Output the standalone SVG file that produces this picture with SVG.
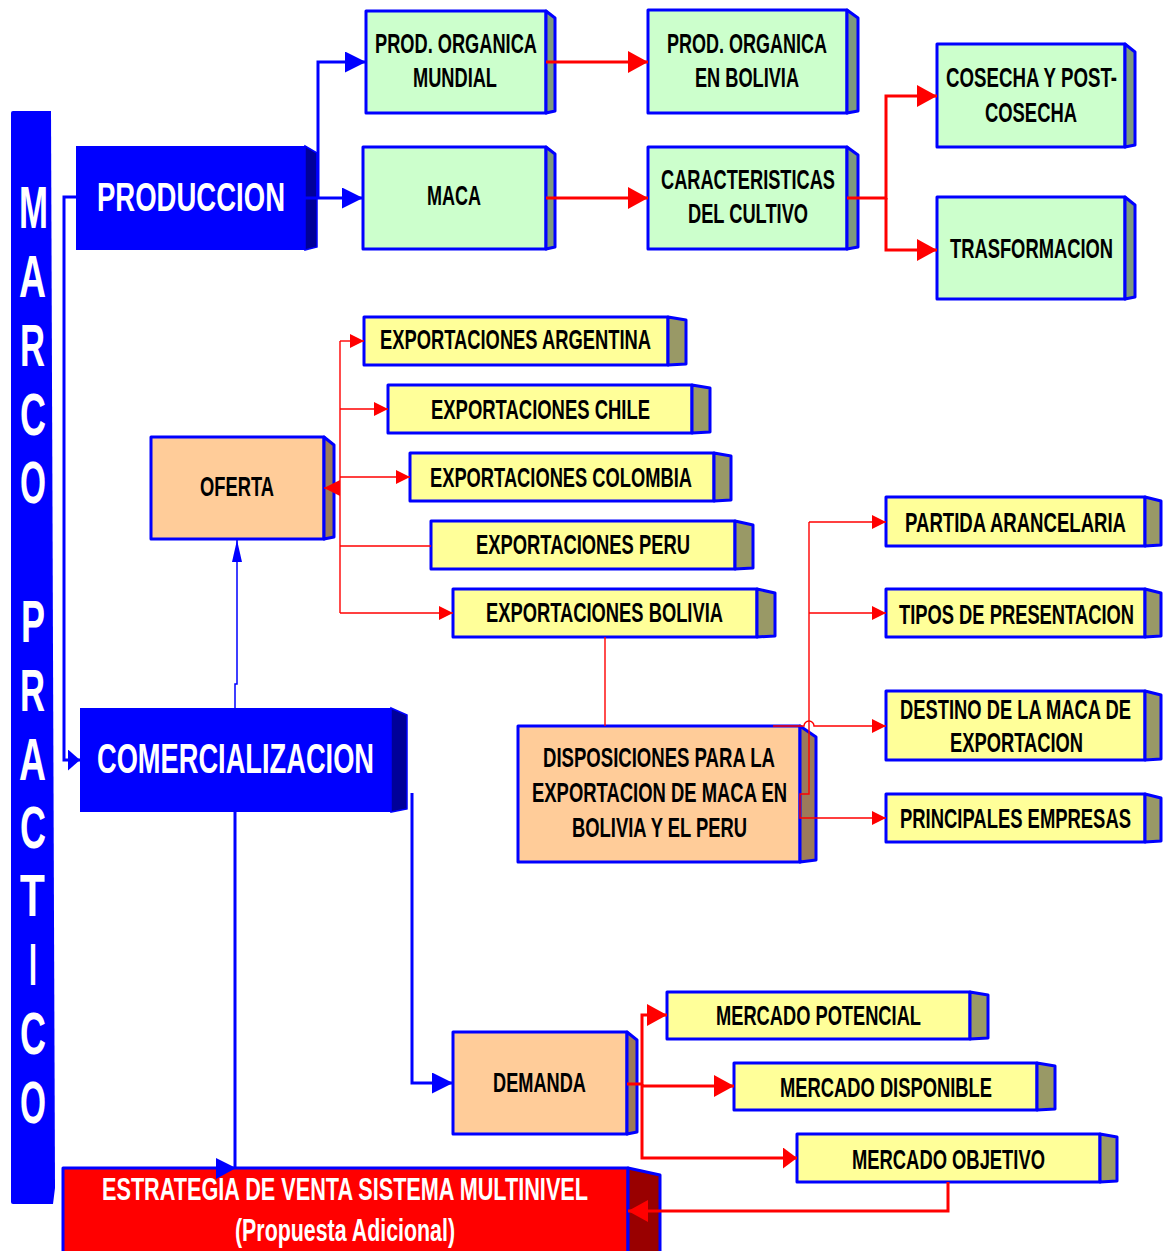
<svg xmlns="http://www.w3.org/2000/svg" width="1166" height="1251" viewBox="0 0 1166 1251">
<style>
text{font-family:"Liberation Sans",Arial,sans-serif;font-weight:bold;}
.t{font-size:28px;fill:#000;}
.tw{fill:#fff;}
.bd{stroke:#0000FF;stroke-width:3;stroke-linejoin:round;}
.gr{fill:#CCFFCC;}
.grs{fill:#7E9A7E;}
.ye{fill:#FFFF99;}
.yes{fill:#999966;}
.pe{fill:#FFCC99;}
.pes{fill:#9C7A5A;}
.bl{fill:#0000FF;}
.bls{fill:#000099;}
.rd{fill:#FF0000;}
.rds{fill:#990000;}
.cb{fill:none;stroke:#0000FF;stroke-width:3;}
.cbt{fill:none;stroke:#0000FF;stroke-width:1.5;}
.cr{fill:none;stroke:#FF0000;stroke-width:3;}
.crt{fill:none;stroke:#FF0000;stroke-width:1.4;}
</style>
<defs>
<marker id="aRL" markerUnits="userSpaceOnUse" markerWidth="20" markerHeight="22" viewBox="0 0 20 22" refX="20" refY="11" orient="auto"><path d="M0,0 L20,11 L0,22 z" fill="#FF0000"/></marker>
<marker id="aRM" markerUnits="userSpaceOnUse" markerWidth="14" markerHeight="21" viewBox="0 0 14 21" refX="14" refY="10.5" orient="auto"><path d="M0,0 L14,10.5 L0,21 z" fill="#FF0000"/></marker>
<marker id="aRS" markerUnits="userSpaceOnUse" markerWidth="14" markerHeight="14" viewBox="0 0 14 14" refX="14" refY="7" orient="auto"><path d="M0,0 L14,7 L0,14 z" fill="#FF0000"/></marker>
<marker id="aRO" markerUnits="userSpaceOnUse" markerWidth="16" markerHeight="16" viewBox="0 0 16 16" refX="16" refY="8" orient="auto"><path d="M0,0 L16,8 L0,16 z" fill="#FF0000"/></marker>
<marker id="aBL" markerUnits="userSpaceOnUse" markerWidth="21" markerHeight="21" viewBox="0 0 21 21" refX="21" refY="10.5" orient="auto"><path d="M0,0 L21,10.5 L0,21 z" fill="#0000FF"/></marker>
<marker id="aBS" markerUnits="userSpaceOnUse" markerWidth="12" markerHeight="21" viewBox="0 0 12 21" refX="12" refY="10.5" orient="auto"><path d="M0,0 L12,10.5 L0,21 z" fill="#0000FF"/></marker>
<marker id="aBU" markerUnits="userSpaceOnUse" markerWidth="22" markerHeight="10" viewBox="0 0 22 10" refX="22" refY="5" orient="auto"><path d="M0,0 L22,5 L0,10 z" fill="#0000FF"/></marker>
</defs>
<rect width="1166" height="1251" fill="#fff"/>

<g id="marco-practico">
<path d="M13,111 H51 L55,1188 L53,1204 H13 Q11,1204 11,1202 V113 Q11,111 13,111 Z" fill="#0000FF"/>
<text class="tw" font-size="60" x="19" y="228" textLength="29" lengthAdjust="spacingAndGlyphs">M</text>
<text class="tw" font-size="60" x="19" y="297" textLength="27" lengthAdjust="spacingAndGlyphs">A</text>
<text class="tw" font-size="60" x="20" y="366" textLength="25" lengthAdjust="spacingAndGlyphs">R</text>
<text class="tw" font-size="60" x="20" y="435" textLength="26" lengthAdjust="spacingAndGlyphs">C</text>
<text class="tw" font-size="60" x="20" y="503" textLength="26" lengthAdjust="spacingAndGlyphs">O</text>
<text class="tw" font-size="60" x="21" y="642" textLength="24" lengthAdjust="spacingAndGlyphs">P</text>
<text class="tw" font-size="60" x="20" y="711" textLength="25" lengthAdjust="spacingAndGlyphs">R</text>
<text class="tw" font-size="60" x="19" y="780" textLength="27" lengthAdjust="spacingAndGlyphs">A</text>
<text class="tw" font-size="60" x="20" y="848" textLength="26" lengthAdjust="spacingAndGlyphs">C</text>
<text class="tw" font-size="60" x="20" y="916" textLength="25" lengthAdjust="spacingAndGlyphs">T</text>
<text class="tw" font-size="60" x="29" y="985" textLength="8" lengthAdjust="spacingAndGlyphs">I</text>
<text class="tw" font-size="60" x="20" y="1054" textLength="26" lengthAdjust="spacingAndGlyphs">C</text>
<text class="tw" font-size="60" x="20" y="1123" textLength="26" lengthAdjust="spacingAndGlyphs">O</text>
</g>

<g id="produccion">
<rect class="bl" x="76" y="146" width="229" height="104"/>
<polygon class="bls" points="305,146 317,153 317,247 305,250" stroke="#0000FF" stroke-width="1.5"/>
<text class="tw" font-size="40" x="97" y="211" textLength="188" lengthAdjust="spacingAndGlyphs">PRODUCCION</text>
</g>

<g id="prod-organica-mundial">
<rect class="gr bd" x="366" y="11" width="180" height="102"/>
<polygon class="grs bd" points="546,11 555,18 555,111 546,113"/>
<text class="t" x="375" y="53" textLength="162" lengthAdjust="spacingAndGlyphs">PROD. ORGANICA</text>
<text class="t" x="413" y="87" textLength="84" lengthAdjust="spacingAndGlyphs">MUNDIAL</text>
</g>

<g id="maca">
<rect class="gr bd" x="363" y="147" width="183" height="102"/>
<polygon class="grs bd" points="546,147 555,154 555,247 546,249"/>
<text class="t" x="427" y="205" textLength="54" lengthAdjust="spacingAndGlyphs">MACA</text>
</g>

<g id="prod-organica-bolivia">
<rect class="gr bd" x="648" y="10" width="199" height="103"/>
<polygon class="grs bd" points="847,10 858,18 858,111 847,113"/>
<text class="t" x="667" y="53" textLength="160" lengthAdjust="spacingAndGlyphs">PROD. ORGANICA</text>
<text class="t" x="695" y="87" textLength="104" lengthAdjust="spacingAndGlyphs">EN BOLIVIA</text>
</g>

<g id="caracteristicas">
<rect class="gr bd" x="648" y="147" width="199" height="102"/>
<polygon class="grs bd" points="847,147 858,155 858,247 847,249"/>
<text class="t" x="661" y="189" textLength="174" lengthAdjust="spacingAndGlyphs">CARACTERISTICAS</text>
<text class="t" x="688" y="223" textLength="120" lengthAdjust="spacingAndGlyphs">DEL CULTIVO</text>
</g>

<g id="cosecha">
<rect class="gr bd" x="937" y="44" width="188" height="103"/>
<polygon class="grs bd" points="1125,44 1135,52 1135,145 1125,147"/>
<text class="t" x="946" y="87" textLength="171" lengthAdjust="spacingAndGlyphs">COSECHA Y POST-</text>
<text class="t" x="985" y="122" textLength="92" lengthAdjust="spacingAndGlyphs">COSECHA</text>
</g>

<g id="trasformacion">
<rect class="gr bd" x="937" y="197" width="188" height="102"/>
<polygon class="grs bd" points="1125,197 1135,205 1135,297 1125,299"/>
<text class="t" x="950" y="258" textLength="163" lengthAdjust="spacingAndGlyphs">TRASFORMACION</text>
</g>

<g id="oferta">
<rect class="pe bd" x="151" y="437" width="173" height="102"/>
<polygon class="pes bd" points="324,437 334,445 334,537 324,539"/>
<text class="t" x="200" y="496" textLength="74" lengthAdjust="spacingAndGlyphs">OFERTA</text>
</g>

<g id="exp-argentina">
<rect class="ye bd" x="364" y="317" width="304" height="48"/>
<polygon class="yes bd" points="668,317 686,320 686,364 668,365"/>
<text class="t" font-size="29" x="380" y="349" textLength="271" lengthAdjust="spacingAndGlyphs">EXPORTACIONES ARGENTINA</text>
</g>
<g id="exp-chile">
<rect class="ye bd" x="388" y="385" width="304" height="48"/>
<polygon class="yes bd" points="692,385 710,388 710,432 692,433"/>
<text class="t" font-size="29" x="431" y="419" textLength="219" lengthAdjust="spacingAndGlyphs">EXPORTACIONES CHILE</text>
</g>
<g id="exp-colombia">
<rect class="ye bd" x="410" y="453" width="304" height="48"/>
<polygon class="yes bd" points="714,453 731,456 731,500 714,501"/>
<text class="t" font-size="29" x="430" y="487" textLength="262" lengthAdjust="spacingAndGlyphs">EXPORTACIONES COLOMBIA</text>
</g>
<g id="exp-peru">
<rect class="ye bd" x="431" y="521" width="304" height="48"/>
<polygon class="yes bd" points="735,521 753,525 753,568 735,569"/>
<text class="t" font-size="29" x="476" y="554" textLength="214" lengthAdjust="spacingAndGlyphs">EXPORTACIONES PERU</text>
</g>
<g id="exp-bolivia">
<rect class="ye bd" x="453" y="589" width="304" height="48"/>
<polygon class="yes bd" points="757,589 775,593 775,636 757,637"/>
<text class="t" font-size="29" x="486" y="622" textLength="237" lengthAdjust="spacingAndGlyphs">EXPORTACIONES BOLIVIA</text>
</g>

<g id="partida">
<rect class="ye bd" x="886" y="497" width="259" height="49"/>
<polygon class="yes bd" points="1145,497 1161,501 1161,545 1145,546"/>
<text class="t" font-size="29" x="905" y="532" textLength="221" lengthAdjust="spacingAndGlyphs">PARTIDA ARANCELARIA</text>
</g>
<g id="tipos">
<rect class="ye bd" x="886" y="589" width="259" height="48"/>
<polygon class="yes bd" points="1145,589 1161,593 1161,636 1145,637"/>
<text class="t" font-size="29" x="899" y="624" textLength="235" lengthAdjust="spacingAndGlyphs">TIPOS DE PRESENTACION</text>
</g>
<g id="destino">
<rect class="ye bd" x="886" y="691" width="259" height="69"/>
<polygon class="yes bd" points="1145,691 1161,695 1161,759 1145,760"/>
<text class="t" font-size="29" x="900" y="719" textLength="231" lengthAdjust="spacingAndGlyphs">DESTINO DE LA MACA DE</text>
<text class="t" font-size="29" x="950" y="752" textLength="133" lengthAdjust="spacingAndGlyphs">EXPORTACION</text>
</g>
<g id="principales">
<rect class="ye bd" x="886" y="794" width="259" height="48"/>
<polygon class="yes bd" points="1145,794 1161,798 1161,841 1145,842"/>
<text class="t" font-size="29" x="900" y="828" textLength="231" lengthAdjust="spacingAndGlyphs">PRINCIPALES EMPRESAS</text>
</g>

<g id="disposiciones">
<rect class="pe bd" x="518" y="726" width="282" height="136"/>
<polygon class="pes bd" points="800,726 816,737 816,860 800,862"/>
<text class="t" x="543" y="767" textLength="232" lengthAdjust="spacingAndGlyphs">DISPOSICIONES PARA LA</text>
<text class="t" x="532" y="802" textLength="255" lengthAdjust="spacingAndGlyphs">EXPORTACION DE MACA EN</text>
<text class="t" x="572" y="837" textLength="175" lengthAdjust="spacingAndGlyphs">BOLIVIA Y EL PERU</text>
</g>

<g id="comercializacion">
<rect class="bl" x="80" y="708" width="311" height="104"/>
<polygon class="bls" points="391,708 407,715 407,809 391,812" stroke="#0000FF" stroke-width="1.5"/>
<text class="tw" font-size="43" x="97" y="773" textLength="277" lengthAdjust="spacingAndGlyphs">COMERCIALIZACION</text>
</g>

<g id="demanda">
<rect class="pe bd" x="453" y="1032" width="174" height="102"/>
<polygon class="pes bd" points="627,1032 637,1040 637,1132 627,1134"/>
<text class="t" font-size="29" x="493" y="1092" textLength="93" lengthAdjust="spacingAndGlyphs">DEMANDA</text>
</g>

<g id="mercado-potencial">
<rect class="ye bd" x="667" y="992" width="303" height="47"/>
<polygon class="yes bd" points="970,992 988,995 988,1038 970,1039"/>
<text class="t" font-size="29" x="716" y="1025" textLength="205" lengthAdjust="spacingAndGlyphs">MERCADO POTENCIAL</text>
</g>
<g id="mercado-disponible">
<rect class="ye bd" x="734" y="1063" width="303" height="47"/>
<polygon class="yes bd" points="1037,1063 1055,1066 1055,1109 1037,1110"/>
<text class="t" font-size="29" x="780" y="1097" textLength="212" lengthAdjust="spacingAndGlyphs">MERCADO DISPONIBLE</text>
</g>
<g id="mercado-objetivo">
<rect class="ye bd" x="797" y="1134" width="303" height="48"/>
<polygon class="yes bd" points="1100,1134 1117,1137 1117,1181 1100,1182"/>
<text class="t" font-size="29" x="852" y="1169" textLength="193" lengthAdjust="spacingAndGlyphs">MERCADO OBJETIVO</text>
</g>

<g id="estrategia">
<rect class="rd bd" x="63" y="1168" width="565" height="100"/>
<polygon class="rds bd" points="628,1168 660,1175 660,1268 628,1268"/>
<text class="tw" font-size="32" x="102" y="1200" textLength="486" lengthAdjust="spacingAndGlyphs">ESTRATEGIA DE VENTA SISTEMA MULTINIVEL</text>
<text class="tw" font-size="32" x="235" y="1241" textLength="220" lengthAdjust="spacingAndGlyphs">(Propuesta Adicional)</text>
</g>

<g id="connectors">
<path class="cb" d="M318,198 V62 H366" marker-end="url(#aBL)"/>
<path class="cb" d="M305,198 H363" marker-end="url(#aBL)"/>
<path class="cb" d="M76,197 H64 V760 H80" marker-end="url(#aBS)"/>
<path class="cb" d="M235,812 V1168"/>
<polygon points="216,1158 236,1168 216,1179" fill="#0000FF"/>
<path class="cb" d="M412,793 V1083 H453" marker-end="url(#aBL)"/>
<path class="cbt" d="M235,708 V684 H237 V540" marker-end="url(#aBU)"/>

<path class="cr" d="M546,62 H648" marker-end="url(#aRL)"/>
<path class="cr" d="M546,198 H648" marker-end="url(#aRL)"/>
<path class="cr" d="M847,198 H886 V96 H937" marker-end="url(#aRL)"/>
<path class="cr" d="M886,198 V250 H937" marker-end="url(#aRL)"/>

<path class="crt" d="M340,341 V613"/>
<path class="crt" d="M340,341 H364" marker-end="url(#aRS)"/>
<path class="crt" d="M340,409 H388" marker-end="url(#aRS)"/>
<path class="crt" d="M340,477 H410" marker-end="url(#aRS)"/>
<path class="crt" d="M340,488 H324" marker-end="url(#aRO)"/>
<path class="crt" d="M340,546 H431"/>
<path class="crt" d="M340,613 H453" marker-end="url(#aRS)"/>
<path class="crt" d="M605,637 V726"/>

<path class="crt" d="M809,522 V794 H800 V818 H886" marker-end="url(#aRS)"/>
<path class="crt" d="M809,522 H886" marker-end="url(#aRS)"/>
<path class="crt" d="M809,613 H886" marker-end="url(#aRS)"/>
<path class="crt" d="M773,726 H804 A5,5 0 0 1 814,726 H886" marker-end="url(#aRS)"/>

<path class="cr" d="M627,1084 H642 V1015 H667" marker-end="url(#aRL)"/>
<path class="cr" d="M642,1086 H734" marker-end="url(#aRL)"/>
<path class="cr" d="M642,1084 V1158 H797" marker-end="url(#aRM)"/>
<path class="cr" d="M948,1182 V1211 H628" marker-end="url(#aRL)"/>
</g>
</svg>
